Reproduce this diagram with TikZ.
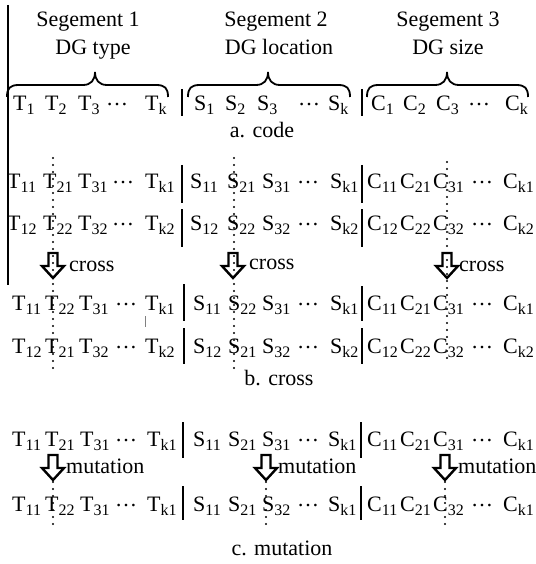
\documentclass[tikz,border=0pt]{standalone}
\usepackage{fontspec}
\setmainfont{Liberation Serif}
\newcommand\sbs[1]{\raisebox{-4pt}{\fontsize{16}{16}\selectfont #1}}
\newcommand\dts{\raisebox{5pt}{…}}
\newcommand\tokrow[3]{\foreach \xx/\tt [count=\ii] in {#3} {\node[tok] (#1\ii) at (\xx,#2) {\tt};}}
\newcommand\mybrace[4]{\coordinate (#1) at (#4,72);
  \draw[bracestyle] (#2,97) .. controls (#2,88) and (#2+3,85) .. (#2+12,85) -- (#4-12,85) .. controls (#4-4,85) and (#4,80) .. (#1) .. controls (#4,80) and (#4+4,85) .. (#4+12,85) -- (#3-12,85) .. controls (#3-3,85) and (#3,88) .. (#3,97);}
\newcommand\blockarrow[3]{\coordinate (#1) at (#2,#3);
  \draw[arrstyle] (#1) ++(-4.5,0) -- ++(9,0) -- ++(0,13) -- ++(6.5,0) -- ++(-11,12) -- ++(-11,-12) -- ++(6.5,0) -- cycle;}
\tikzset{
  tok/.style={anchor=base west, inner sep=0pt, font=\fontsize{22}{26}\selectfont},
  head/.style={anchor=base, inner sep=0pt, font=\fontsize{22}{26}\selectfont},
  lab/.style={anchor=center, inner sep=0pt, font=\fontsize{22}{26}\selectfont},
  sep/.style={line width=1.8pt},
  bracestyle/.style={line width=1.8pt},
  arrstyle/.style={line width=2.4pt, line join=miter},
  dotline/.style={line width=2.2pt, line cap=round, dash pattern=on 0pt off 7pt}
}
\begin{document}
\begin{tikzpicture}[x=1pt,y=-1pt]
\useasboundingbox (0,0) rectangle (535,564);
% left vertical line
\coordinate (L1) at (8,5); \coordinate (L2) at (8,285);
\draw[line width=1.5pt] (L1) -- (L2);
% headers
\node[head] (h1) at (88,27) {Segement 1};
\node[head] (h1b) at (93,55) {DG type};
\node[head] (h2) at (276,27) {Segement 2};
\node[head] (h2b) at (279,55) {DG location};
\node[head] (h3) at (448,27) {Segement 3};
\node[head] (h3b) at (448,55) {DG size};
\mybrace{b1}{7}{168}{95}
\mybrace{b2}{188}{350}{268}
\mybrace{b3}{367}{528}{447}
% row a
\tokrow{aT}{111}{13/T\sbs{1}, 45/T\sbs{2}, 78/T\sbs{3}, 106/\dts, 145/T\sbs{k}}
\tokrow{aS}{111}{194/S\sbs{1}, 225/S\sbs{2}, 257/S\sbs{3}, 298/\dts, 328/S\sbs{k}}
\tokrow{aC}{111}{371/C\sbs{1}, 403/C\sbs{2}, 436/C\sbs{3}, 468/\dts, 505/C\sbs{k}}
\draw[sep] (182,89) -- (182,116);
\draw[sep] (362,89) -- (362,116);
\node[lab] (la) at (262,130) {a. code};
% rows b1 b2
\tokrow{b1T}{188}{7/T\sbs{11}, 43/T\sbs{21}, 78/T\sbs{31}, 112/\dts, 145/T\sbs{k1}}
\tokrow{b1S}{188}{190/S\sbs{11}, 227/S\sbs{21}, 262/S\sbs{31}, 297/\dts, 330/S\sbs{k1}}
\tokrow{b1C}{188}{367/C\sbs{11}, 400/C\sbs{21}, 433/C\sbs{31}, 471/\dts, 503/C\sbs{k1}}
\tokrow{b2T}{230}{7/T\sbs{12}, 43/T\sbs{22}, 78/T\sbs{32}, 112/\dts, 145/T\sbs{k2}}
\tokrow{b2S}{230}{190/S\sbs{12}, 227/S\sbs{22}, 262/S\sbs{32}, 297/\dts, 330/S\sbs{k2}}
\tokrow{b2C}{230}{367/C\sbs{12}, 400/C\sbs{22}, 433/C\sbs{32}, 471/\dts, 503/C\sbs{k2}}
\draw[sep] (182,165) -- (182,203);
\draw[sep] (182,209) -- (182,247);
\draw[sep] (362,165) -- (362,203);
\draw[sep] (362,209) -- (362,247);
% cross arrows
\blockarrow{x1}{53}{253}
\blockarrow{x2}{233}{253}
\blockarrow{x3}{447}{253}
\node[lab, anchor=west] (cr1) at (69,266) {cross};
\node[lab, anchor=west] (cr2) at (249,264) {cross};
\node[lab, anchor=west] (cr3) at (459,266) {cross};
% rows b3 b4
\tokrow{b3T}{310}{12/T\sbs{11}, 45/T\sbs{22}, 79/T\sbs{31}, 115/\dts, 145/T\sbs{k1}}
\tokrow{b3S}{310}{193/S\sbs{11}, 228/S\sbs{22}, 262/S\sbs{31}, 297/\dts, 330/S\sbs{k1}}
\tokrow{b3C}{310}{367/C\sbs{11}, 400/C\sbs{21}, 433/C\sbs{31}, 471/\dts, 503/C\sbs{k1}}
\tokrow{b4T}{353}{12/T\sbs{12}, 45/T\sbs{21}, 79/T\sbs{32}, 115/\dts, 145/T\sbs{k2}}
\tokrow{b4S}{353}{193/S\sbs{12}, 228/S\sbs{21}, 262/S\sbs{32}, 297/\dts, 330/S\sbs{k2}}
\tokrow{b4C}{353}{367/C\sbs{12}, 400/C\sbs{22}, 433/C\sbs{32}, 471/\dts, 503/C\sbs{k2}}
\draw[sep] (184,284) -- (184,321);
\draw[sep] (184,328) -- (184,364);
\draw[sep] (362,286) -- (362,321);
\draw[sep] (362,328) -- (362,364);
\draw[line width=0.6pt, gray] (145,316) -- (145,327);
\node[lab] (lb) at (279,378) {b. cross};
% dotted lines b
\coordinate (d1a) at (53,158); \coordinate (d1b) at (53,372);
\coordinate (d2a) at (234,158); \coordinate (d2b) at (234,370);
\coordinate (d3a) at (447,162); \coordinate (d3b) at (447,362);
\draw[dotline] (d1a) -- (d1b);
\draw[dotline] (d2a) -- (d2b);
\draw[dotline] (d3a) -- (d3b);
% rows c
\tokrow{c1T}{446}{12/T\sbs{11}, 45/T\sbs{21}, 80/T\sbs{31}, 115/\dts, 147/T\sbs{k1}}
\tokrow{c1S}{446}{193/S\sbs{11}, 228/S\sbs{21}, 262/S\sbs{31}, 297/\dts, 328/S\sbs{k1}}
\tokrow{c1C}{446}{367/C\sbs{11}, 400/C\sbs{21}, 433/C\sbs{31}, 471/\dts, 503/C\sbs{k1}}
\tokrow{c2T}{511}{12/T\sbs{11}, 45/T\sbs{22}, 80/T\sbs{31}, 115/\dts, 147/T\sbs{k1}}
\tokrow{c2S}{511}{193/S\sbs{11}, 228/S\sbs{21}, 262/S\sbs{32}, 297/\dts, 328/S\sbs{k1}}
\tokrow{c2C}{511}{367/C\sbs{11}, 400/C\sbs{21}, 433/C\sbs{32}, 471/\dts, 503/C\sbs{k1}}
\draw[sep] (183,422) -- (183,458);
\draw[sep] (183,486) -- (183,520);
\draw[sep] (361,422) -- (361,458);
\draw[sep] (361,486) -- (361,520);
% mutation arrows
\blockarrow{m1}{53}{455}
\blockarrow{m2}{266}{455}
\blockarrow{m3}{445}{455}
\node[lab, anchor=west] (mu1) at (66,466) {mutation};
\node[lab, anchor=west] (mu2) at (278,466) {mutation};
\node[lab, anchor=west] (mu3) at (458,466) {mutation};
\coordinate (e1a) at (53,482); \coordinate (e1b) at (53,530);
\coordinate (e2a) at (266,482); \coordinate (e2b) at (266,530);
\coordinate (e3a) at (445,482); \coordinate (e3b) at (445,530);
\draw[dotline] (e1a) -- (e1b);
\draw[dotline] (e2a) -- (e2b);
\draw[dotline] (e3a) -- (e3b);
\node[lab] (lc) at (282,548) {c. mutation};
\end{tikzpicture}
\end{document}
